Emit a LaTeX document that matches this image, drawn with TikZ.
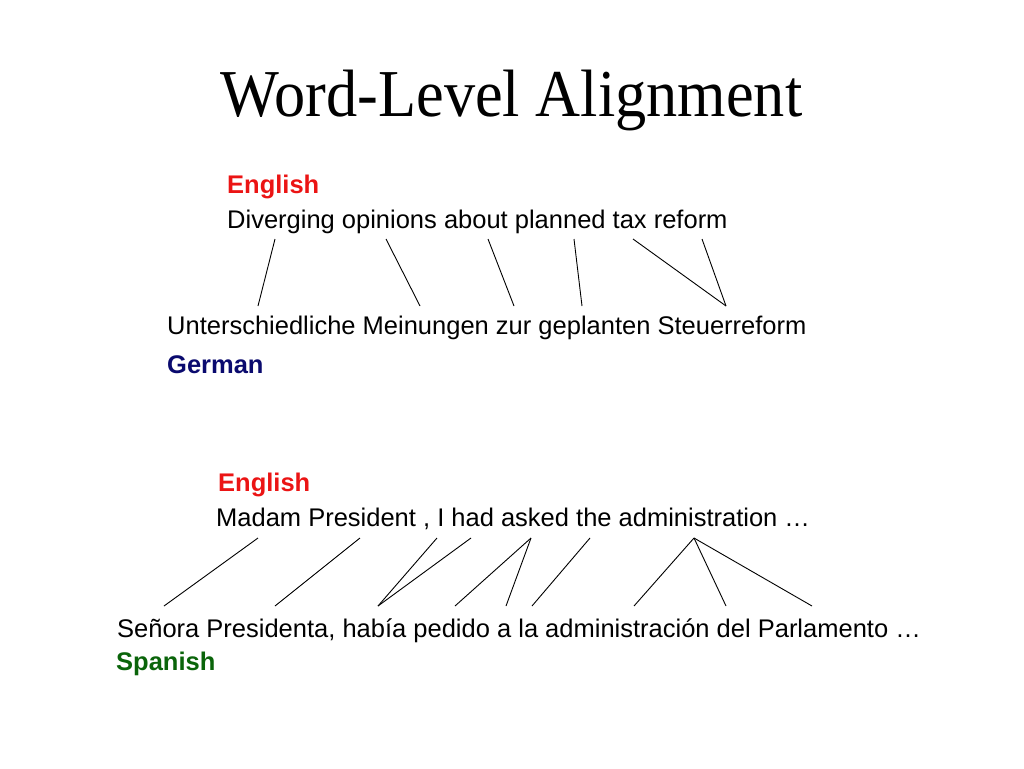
\documentclass[tikz,border=0pt]{standalone}
\usepackage{fontspec}
\setmainfont{Liberation Serif}
\newfontfamily\bodysans{Liberation Sans}
\definecolor{engred}{RGB}{235,20,20}
\definecolor{gernavy}{RGB}{10,10,110}
\definecolor{spgreen}{RGB}{10,100,10}
\begin{document}
\begin{tikzpicture}[x=1pt,y=-1pt,
  txt/.style={anchor=base west,inner sep=0pt,font=\bodysans\fontsize{25.5}{30}\selectfont},
  lbl/.style={txt,font=\bodysans\bfseries\fontsize{25.5}{30}\selectfont},
  link/.style={line width=0.9pt,black}]
\useasboundingbox (0,0) rectangle (1024,768);
\node[anchor=base,inner sep=0pt,font=\fontsize{67}{78}\selectfont] (title) at (511.5,116.5) {\scalebox{0.93}[1]{Word-Level Alignment}};
% first pair
\node[lbl,text=engred] (en1) at (227,193) {English};
\node[txt] (ens1) at (227,228) {Diverging opinions about planned tax reform};
\node[txt] (des) at (167,334) {Unterschiedliche Meinungen zur geplanten Steuerreform};
\node[lbl,text=gernavy] (de) at (167,373) {German};
% endpoints
\coordinate (a1) at (275,239); \coordinate (b1) at (258,306);
\coordinate (a2) at (386,239); \coordinate (b2) at (420,306);
\coordinate (a3) at (488,239); \coordinate (b3) at (514,306);
\coordinate (a4) at (574,239); \coordinate (b4) at (582,306);
\coordinate (a5) at (633,239); \coordinate (b5) at (726,306);
\coordinate (a6) at (702,239);
\draw[link] (a1) -- (b1);
\draw[link] (a2) -- (b2);
\draw[link] (a3) -- (b3);
\draw[link] (a4) -- (b4);
\draw[link] (a5) -- (b5);
\draw[link] (a6) -- (b5);
% second pair
\node[lbl,text=engred] (en2) at (218,491) {English};
\node[txt] (ens2) at (216,526) {Madam President , I had asked the administration …};
\node[txt] (ess) at (117,637) {Señora Presidenta, había pedido a la administración del Parlamento …};
\node[lbl,text=spgreen] (es) at (116,670) {Spanish};
\coordinate (c1) at (258,538); \coordinate (d1) at (164,606);
\coordinate (c2) at (360,538); \coordinate (d2) at (275,606);
\coordinate (c3) at (437,538); \coordinate (d3) at (378,606);
\coordinate (c4) at (471,538);
\coordinate (c5) at (531,538); \coordinate (d5) at (455,606);
\coordinate (d6) at (506,606);
\coordinate (c7) at (590,538); \coordinate (d7) at (532,606);
\coordinate (c8) at (694,538); \coordinate (d8) at (634,606);
\coordinate (d9) at (726,606); \coordinate (d10) at (812,606);
\draw[link] (c1) -- (d1);
\draw[link] (c2) -- (d2);
\draw[link] (c3) -- (d3);
\draw[link] (c4) -- (d3);
\draw[link] (c5) -- (d5);
\draw[link] (c5) -- (d6);
\draw[link] (c7) -- (d7);
\draw[link] (c8) -- (d8);
\draw[link] (c8) -- (d9);
\draw[link] (c8) -- (d10);
\end{tikzpicture}
\end{document}
